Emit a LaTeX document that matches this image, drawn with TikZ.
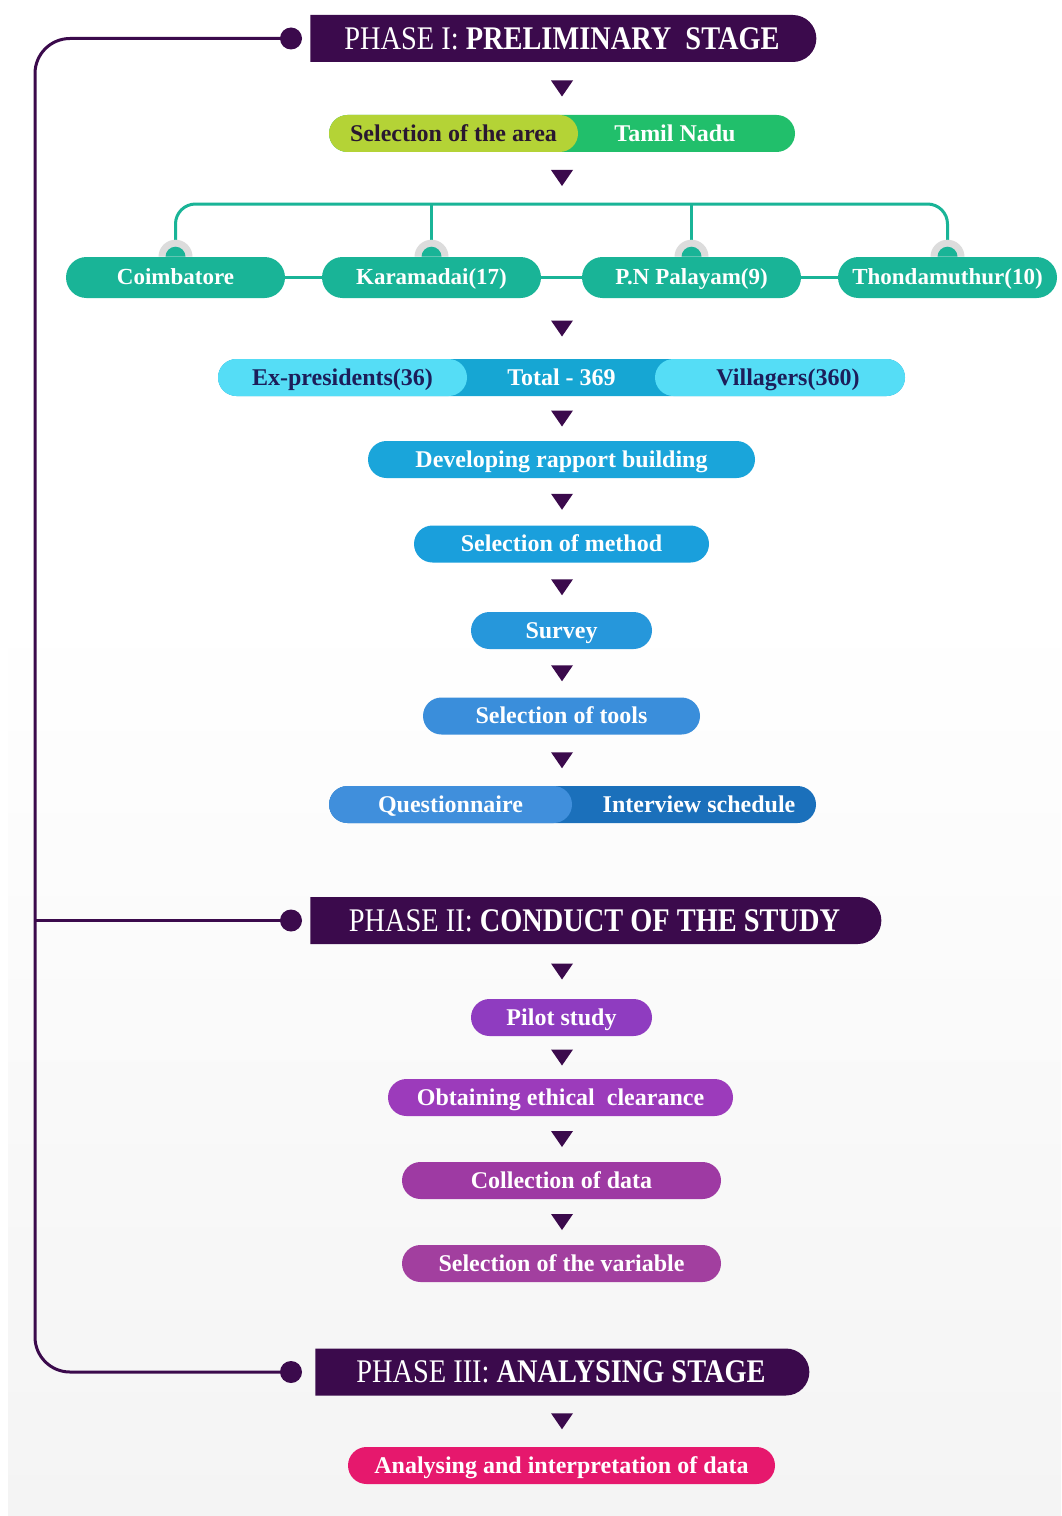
\documentclass[tikz,border=0pt]{standalone}
\usepackage{fontspec}
\setmainfont{Liberation Serif}
\newfontfamily\hdfont{Liberation Serif}[FakeStretch=0.86]
\usetikzlibrary{shapes.misc,calc}
\newdimen\px \px=0.75pt
\definecolor{purp}{HTML}{3B0A4C}
\definecolor{limec}{HTML}{B4D336}
\definecolor{greenc}{HTML}{21BF6B}
\definecolor{darktxt}{HTML}{2A1830}
\definecolor{tealc}{HTML}{19B497}
\definecolor{knobg}{HTML}{DCDCDC}
\definecolor{cyanl}{HTML}{55DDF6}
\definecolor{cyand}{HTML}{16A6D3}
\definecolor{navytxt}{HTML}{1C1E5A}
\definecolor{rapc}{HTML}{1AA5DA}
\definecolor{metc}{HTML}{1A9FDC}
\definecolor{surc}{HTML}{2697DB}
\definecolor{tooc}{HTML}{3A8EDB}
\definecolor{qlc}{HTML}{408FDC}
\definecolor{qdc}{HTML}{1B70BB}
\definecolor{pilc}{HTML}{8F3CC0}
\definecolor{ethc}{HTML}{9C3BBB}
\definecolor{colc}{HTML}{9E3AA3}
\definecolor{varc}{HTML}{A23F9F}
\definecolor{anac}{HTML}{E6186D}
\definecolor{bgb}{HTML}{EBEBEB}
\definecolor{bgm}{HTML}{F4F4F4}
\pgfdeclareverticalshading{bgsh}{100bp}{color(0bp)=(bgb); color(25bp)=(bgm); color(55bp)=(white); color(100bp)=(white)}
\tikzset{
  pill/.style={rounded rectangle, inner sep=0pt, minimum height=37\px, text=white,
    text height=12pt, text depth=0.3pt,
    font=\fontsize{18}{20}\selectfont\bfseries},
  head/.style={rounded rectangle, rounded rectangle left arc=none, fill=purp, inner sep=0pt,
    minimum height=47\px, text=white, text height=16.4pt, text depth=0pt,
    font=\hdfont\fontsize{24.75}{28}\selectfont},
  dist/.style={pill, fill=tealc, minimum width=219\px, minimum height=41\px,
    text height=11.5pt, text depth=0.3pt,
    font=\fontsize{17.25}{20}\selectfont\bfseries},
  txt/.style={inner sep=0pt, text height=12pt, text depth=0.3pt,
    font=\fontsize{18}{20}\selectfont\bfseries},
  tline/.style={draw=tealc, line width=3\px},
  pline/.style={draw=purp, line width=3\px},
  dot/.style={circle, fill=purp, minimum size=22\px, inner sep=0pt},
  tri/.pic={\fill[purp] (-11,-8) -- (11,-8) -- (0,8) -- cycle;},
}
\begin{document}
\begin{tikzpicture}[x=0.75pt, y=-0.75pt]
\useasboundingbox (0,0) rectangle (1061,1516);
\shade[shading=bgsh] (8,0) rectangle (1061,1516);
\coordinate (ax) at (562,0);

% Phase headers and dots
\node[head, minimum width=506\px] (h1) at (562,38.5) {PHASE I: \textbf{PRELIMINARY\ \ STAGE}};
\node[head, minimum width=571\px] (h2) at (594.5,920.5) {PHASE II: \textbf{CONDUCT OF THE STUDY}};
\node[head, minimum width=494\px] (h3) at (561,1372) {PHASE III: \textbf{ANALYSING STAGE}};
\node[dot] (d1) at (291,38.5) {};
\node[dot] (d2) at (291,920.5) {};
\node[dot] (d3) at (291,1372) {};
\coordinate (lt) at (35,38.5);
\coordinate (lm) at (35,920.5);
\coordinate (lb) at (35,1372);
\draw[pline, rounded corners=35\px] (d1.center) -- (lt) -- (lb) -- (d3.center);
\draw[pline] (lm) -- (d2.center);

% Selection of the area
\node[pill, fill=greenc, minimum width=466\px] (area) at (562,133.5) {};
\node[pill, fill=limec, minimum width=249\px, text=darktxt] (areaL) at (453.5,133.5) {Selection of the area};
\node[txt, text=white] (areaR) at (675,133.5) {Tamil Nadu};

% Tree and districts
\node[inner sep=0pt, minimum size=0pt] (bar) at (562,204) {};
\node[dist] (c1) at (175.5,277.5) {Coimbatore};
\node[dist] (c2) at (431.5,277.5) {Karamadai(17)};
\node[dist] (c3) at (691.5,277.5) {P.N Palayam(9)};
\node[dist] (c4) at (947.5,277.5) {Thondamuthur(10)};
\draw[tline] (c1.east) -- (c2.west);
\draw[tline] (c2.east) -- (c3.west);
\draw[tline] (c3.east) -- (c4.west);
\draw[tline, rounded corners=20\px] ($(c1.north)+(0,-10)$) |- (bar.center) -| ($(c4.north)+(0,-10)$);
\draw[tline] ($(c2.north)+(0,-10)$) -- (c2.north |- bar.center);
\draw[tline] ($(c3.north)+(0,-10)$) -- (c3.north |- bar.center);
\foreach \c in {c1,c2,c3,c4}{
  \fill[knobg] ($(\c.north)+(-17,0)$) arc[start angle=180, end angle=0, radius=12.75pt] -- cycle;
  \fill[tealc] ($(\c.north)+(-10,0)$) arc[start angle=180, end angle=0, radius=7.5pt] -- cycle;
}

% Sample
\node[pill, fill=cyand, minimum width=687\px] (tot) at (561.5,377.5) {Total - 369};
\node[pill, fill=cyanl, minimum width=249\px, text=navytxt] (exL) at (342.5,377.5) {Ex-presidents(36)};
\node[pill, fill=cyanl, minimum width=250\px, text=navytxt] (exR) at (780,377.5) {\hspace*{16\px}Villagers(360)};

% Phase I steps
\node[pill, fill=rapc, minimum width=387\px] (rapport) at (561.5,459.5) {Developing rapport building};
\node[pill, fill=metc, minimum width=295\px] (method) at (561.5,544) {Selection of method};
\node[pill, fill=surc, minimum width=181\px] (survey) at (561.5,630.5) {Survey};
\node[pill, fill=tooc, minimum width=277\px] (tools) at (561.5,716) {Selection of tools};
\node[pill, fill=qdc, minimum width=487\px] (qi) at (572.5,804.5) {};
\node[pill, fill=qlc, minimum width=243\px] (qiL) at (450.5,804.5) {Questionnaire};
\node[txt, text=white] (qiR) at (699,804.5) {Interview schedule};

% Phase II steps
\node[pill, fill=pilc, minimum width=181\px] (pilot) at (561.5,1017.5) {Pilot study};
\node[pill, fill=ethc, minimum width=345\px] (ethical) at (560.5,1097.5) {Obtaining ethical\ \ clearance};
\node[pill, fill=colc, minimum width=319\px] (collect) at (561.5,1180.5) {Collection of data};
\node[pill, fill=varc, minimum width=319\px] (variable) at (561.5,1263.5) {Selection of the variable};

% Phase III step
\node[pill, fill=anac, minimum width=427\px] (analyse) at (561.5,1465.5) {Analysing and interpretation of data};

% Triangle markers
\foreach \a/\b in {h1/area, area/bar, c2/tot, tot/rapport, rapport/method, method/survey,
    survey/tools, tools/qi, h2/pilot, pilot/ethical, ethical/collect, collect/variable, h3/analyse}{
  \coordinate (m) at ($(\a.south)!.5!(\b.north)$);
  \path (ax |- m) pic{tri};
}
\end{tikzpicture}
\end{document}
